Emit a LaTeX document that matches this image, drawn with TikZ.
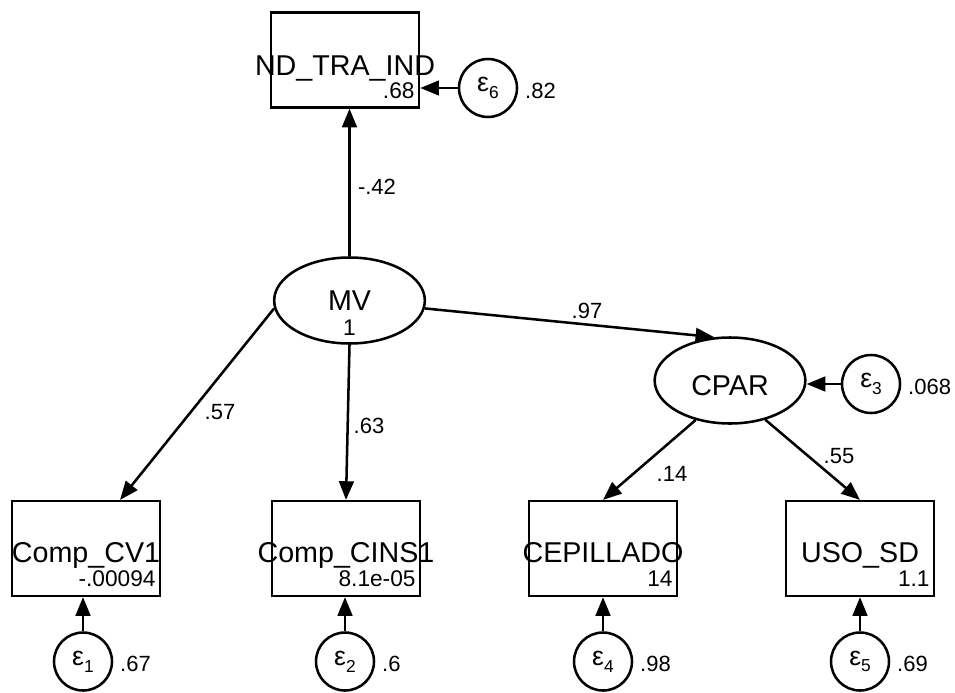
\documentclass[tikz,border=0pt]{standalone}
\usepackage{fontspec}
\setmainfont{Liberation Sans}
\usetikzlibrary{shapes.geometric,arrows.meta,positioning,calc}
\newcommand{\errlab}[1]{ε\raisebox{-5pt}{\fontsize{13}{13}\selectfont #1}}

\begin{document}
\begin{tikzpicture}[
    x=0.75pt, y=-0.75pt,
    obs/.style={draw, line width=1.9pt, rectangle, minimum width=111pt, minimum height=71pt, inner sep=0pt},
    lat/.style={draw, line width=1.9pt, ellipse, minimum width=113pt, minimum height=64.5pt, inner sep=0pt},
    err/.style={draw, line width=1.9pt, circle, minimum size=43.5pt, inner sep=0pt, font=\fontsize{20}{21}\selectfont},
    nm/.style={font=\fontsize{21.5}{24}\selectfont, inner sep=0pt, anchor=base},
    val/.style={font=\fontsize{17}{19}\selectfont, inner sep=0pt, anchor=base east},
    lab/.style={font=\fontsize{16.5}{18}\selectfont, inner sep=0pt},
    conn/.style={line width=1.9pt, -{Triangle[length=14pt,width=11pt]}}
]
\useasboundingbox (0,0) rectangle (955,692);

% latent variables
\node[lat] (mv) at (349.5,300.5) {};
\node[nm] (mvtxt) at ($(mv)+(0,9.5)$) {MV};
\node[val, anchor=base] (mvvar) at ($(mv)+(0,34.5)$) {1};
\node[lat] (cpar) at (730,380.5) {};
\node[nm] (cpartxt) at ($(cpar)+(0,14.5)$) {CPAR};

% observed variables
\node[obs] (nd) at (345,60) {};
\node[nm] (ndtxt) at ($(nd)+(0,15)$) {ND\_TRA\_IND};
\node[val] (ndval) at ($(nd.south east)+(-5.5,-10)$) {.68};

\node[obs] (cv) at (86,548.5) {};
\node[nm] (cvtxt) at ($(cv)+(0,14)$) {Comp\_CV1};
\node[val] (cvval) at ($(cv.south east)+(-5.5,-10.5)$) {-.00094};

\node[obs] (cins) at (346,548.5) {};
\node[nm] (cinstxt) at ($(cins)+(0,14)$) {Comp\_CINS1};
\node[val] (cinsval) at ($(cins.south east)+(-5.5,-10.5)$) {8.1e-05};

\node[obs] (ce) at (603,548.5) {};
\node[nm] (cetxt) at ($(ce)+(0,14)$) {CEPILLADO};
\node[val] (ceval) at ($(ce.south east)+(-5.5,-10.5)$) {14};

\node[obs] (uso) at (860,548.5) {};
\node[nm] (usotxt) at ($(uso)+(0,14)$) {USO\_SD};
\node[val] (usoval) at ($(uso.south east)+(-5.5,-10.5)$) {1.1};

% error terms
\node[err] (e6) at (488,88) {\errlab{6}};
\node[lab, right=5pt of e6, yshift=-2pt] (v6) {.82};
\node[err] (e3) at (871,384) {\errlab{3}};
\node[lab, right=5pt of e3, yshift=-2pt] (v3) {.068};
\node[err] (e1) at (83,661.5) {\errlab{1}};
\node[lab, right=5pt of e1, yshift=-2pt] (v1) {.67};
\node[err] (e2) at (345,661.5) {\errlab{2}};
\node[lab, right=5pt of e2, yshift=-2pt] (v2) {.6};
\node[err] (e4) at (603,661.5) {\errlab{4}};
\node[lab, right=5pt of e4, yshift=-2pt] (v4) {.98};
\node[err] (e5) at (860,661.5) {\errlab{5}};
\node[lab, right=5pt of e5, yshift=-2pt] (v5) {.69};

% paths
\draw[conn] (mv.north) -- (mv.north |- nd.south);
\draw[conn] (mv.354) -- (cpar.110);
\draw[conn] (mv.186) -- (cv.55);
\draw[conn] (mv.south) -- (cins.north);
\draw[conn] (cpar.229) -- (ce.north);
\draw[conn] (cpar.312) -- (uso.north);

\draw[conn] (e6) -- (e6 -| nd.east);
\draw[conn] (e3) -- (e3 -| cpar.east);
\draw[conn] (e1) -- (e1 |- cv.south);
\draw[conn] (e2) -- (e2 |- cins.south);
\draw[conn] (e4) -- (e4 |- ce.south);
\draw[conn] (e5) -- (e5 |- uso.south);

% coefficients
\node[lab] (c42) at (377,187) {-.42};
\node[lab] (c97) at (587,311) {.97};
\node[lab] (c57) at (220,412) {.57};
\node[lab] (c63) at (369,426) {.63};
\node[lab] (c14) at (672,474) {.14};
\node[lab] (c55) at (839,456) {.55};
\end{tikzpicture}
\end{document}
